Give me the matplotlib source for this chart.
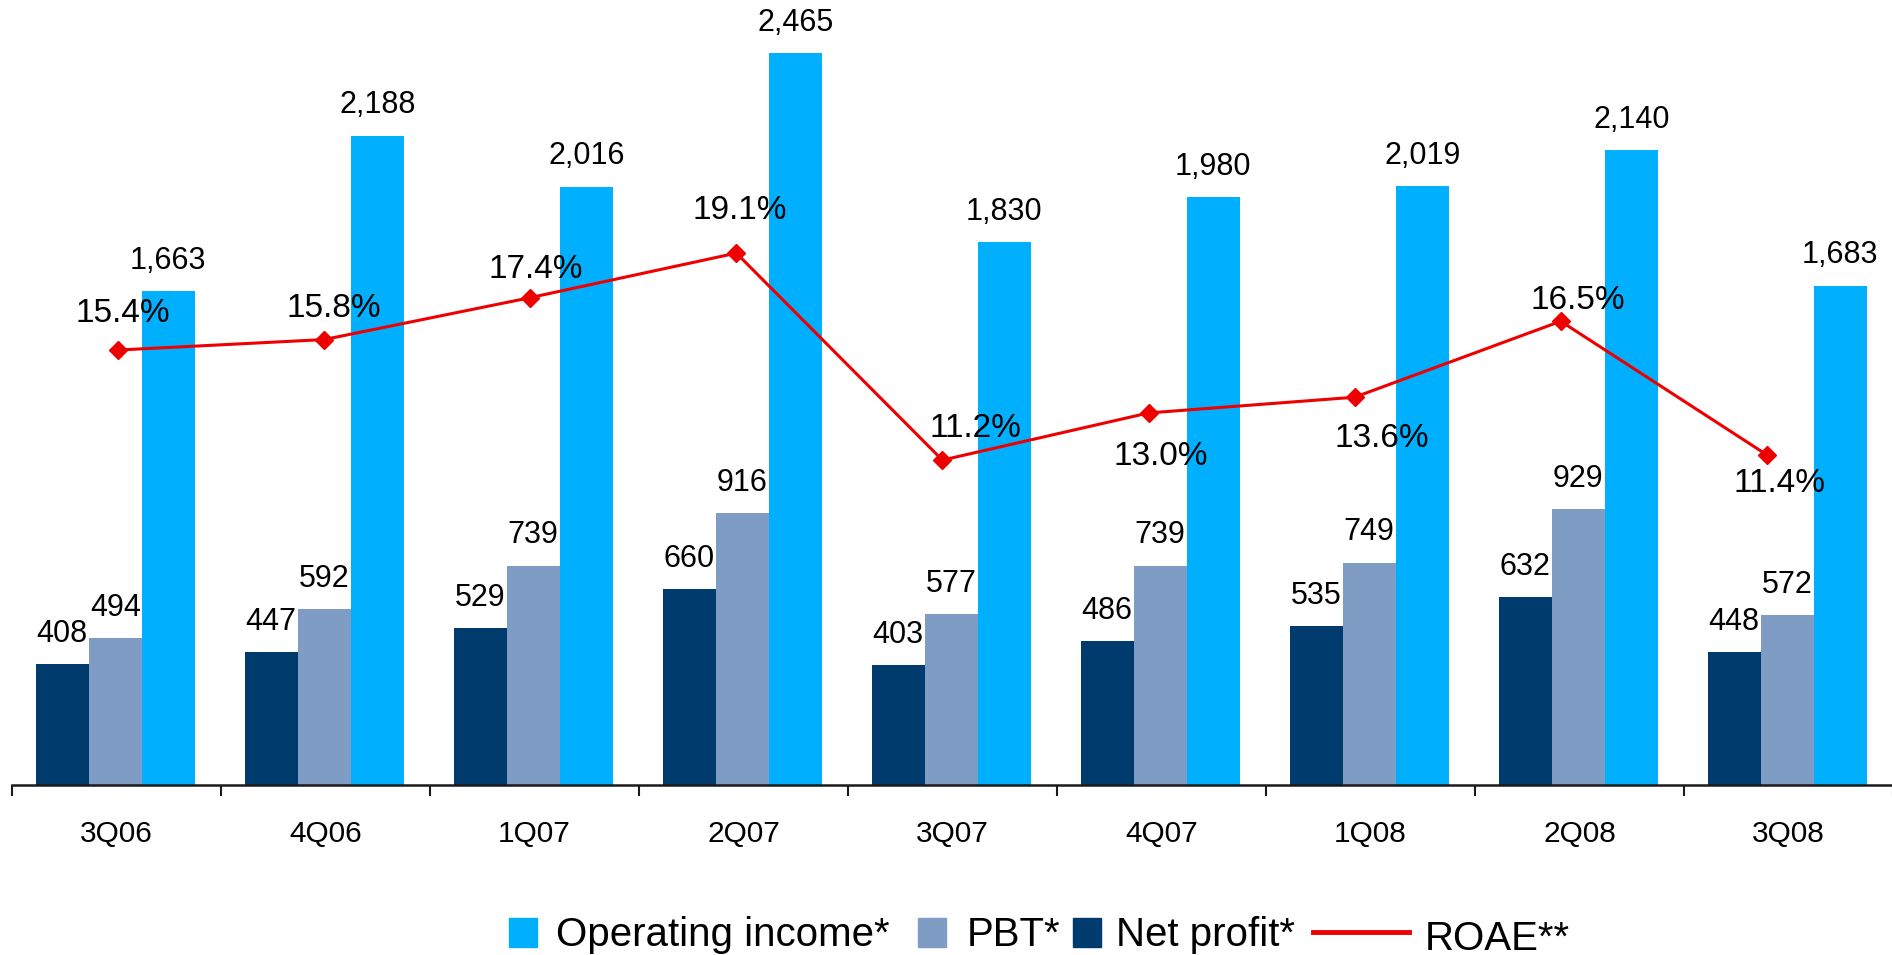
import matplotlib
matplotlib.use("Agg")
import matplotlib.pyplot as plt
from matplotlib.lines import Line2D
from matplotlib.patches import Rectangle

plt.rcParams['font.family'] = ['Liberation Sans', 'DejaVu Sans']

# data
quarters = ['3Q06', '4Q06', '1Q07', '2Q07', '3Q07', '4Q07', '1Q08', '2Q08', '3Q08']
net_profit = [408, 447, 529, 660, 403, 486, 535, 632, 448]
pbt = [494, 592, 739, 916, 577, 739, 749, 929, 572]
operating_income = [1663, 2188, 2016, 2465, 1830, 1980, 2019, 2140, 1683]
roae = [15.4, 15.8, 17.4, 19.1, 11.2, 13.0, 13.6, 16.5, 11.4]

c_oi = '#00B0FF'
c_pbt = '#7F9CC4'
c_np = '#003B6D'
c_red = '#EE0000'

W, H = 1892, 955
fig = plt.figure(figsize=(W / 100, H / 100), dpi=100)
rect = [12 / W, (H - 785) / H, 1881 / W, 785 / H]
ax = fig.add_axes(rect)

x = list(range(len(quarters)))
bw = 0.254
series = [(net_profit, c_np), (pbt, c_pbt), (operating_income, c_oi)]
for k, (vals, col) in enumerate(series):
    xs = [i + (k - 1) * bw - 0.006 for i in x]
    bars = ax.bar(xs, vals, bw, color=col, zorder=2)
    for b, v in zip(bars, vals):
        ax.annotate(f'{v:,}', (b.get_x() + b.get_width() / 2, v),
                    xytext=(0, 16), textcoords='offset points',
                    ha='center', va='baseline', fontsize=22, color='black')

ax.set_xlim(-0.5, 8.5)
ax.set_ylim(0, 2645)
for s in ['top', 'right', 'left']:
    ax.spines[s].set_visible(False)
ax.spines['bottom'].set_linewidth(1.8)
ax.spines['bottom'].set_color('#1a1a1a')
ax.set_yticks([])
ax.set_xticks([i - 0.5 for i in range(len(quarters) + 1)])
ax.set_xticklabels([])
ax.tick_params(axis='x', which='major', length=8, width=1.5, color='#1a1a1a', direction='out')
ax.set_xticks(x, minor=True)
ax.set_xticklabels(quarters, minor=True, fontsize=21.5)
ax.tick_params(axis='x', which='minor', length=0, pad=25)

# ROAE line on its own axes
ax2 = fig.add_axes(rect, frameon=False)
ax2.set_xlim(-0.514, 8.612)
ax2.set_ylim(-1.2, 28.76)
ax2.set_xticks([])
ax2.set_yticks([])
ax2.plot(x, roae, color=c_red, lw=2.2, marker='D', ms=9.5, mec=c_red, mfc=c_red, zorder=3)

# label offsets in pixels (dx, dy baseline)
lab_off = [(5, -28), (10, -23), (6, -20), (3, -34), (33, -23),
           (12, 52), (27, 50), (17, -12), (13, 37)]
for i, v in enumerate(roae):
    dx, dy = lab_off[i]
    ax2.annotate(f'{v:.1f}%', (x[i], v), xytext=(dx * 0.72, -dy * 0.72),
                 textcoords='offset points', ha='center', va='baseline',
                 fontsize=24, color='black')

# legend drawn in figure pixels
def fx(p):
    return p / W

def fy(p):
    return (H - p) / H

items = [(509, 556, 'Operating income*', c_oi), (918, 967, 'PBT*', c_pbt),
         (1073, 1116, 'Net profit*', c_np)]
for sx, tx, label, col in items:
    fig.patches.append(Rectangle((fx(sx), fy(947)), fx(28), 29 / H,
                                 transform=fig.transFigure, color=col))
    fig.text(fx(tx), fy(946), label, fontsize=29, va='baseline', ha='left')
fig.lines.append(Line2D([fx(1313), fx(1409)], [fy(932), fy(932)],
                        transform=fig.transFigure, color=c_red, lw=3.5))
fig.text(fx(1425), fy(950), 'ROAE**', fontsize=29, va='baseline', ha='left')

fig.savefig('out.png', dpi=100)
